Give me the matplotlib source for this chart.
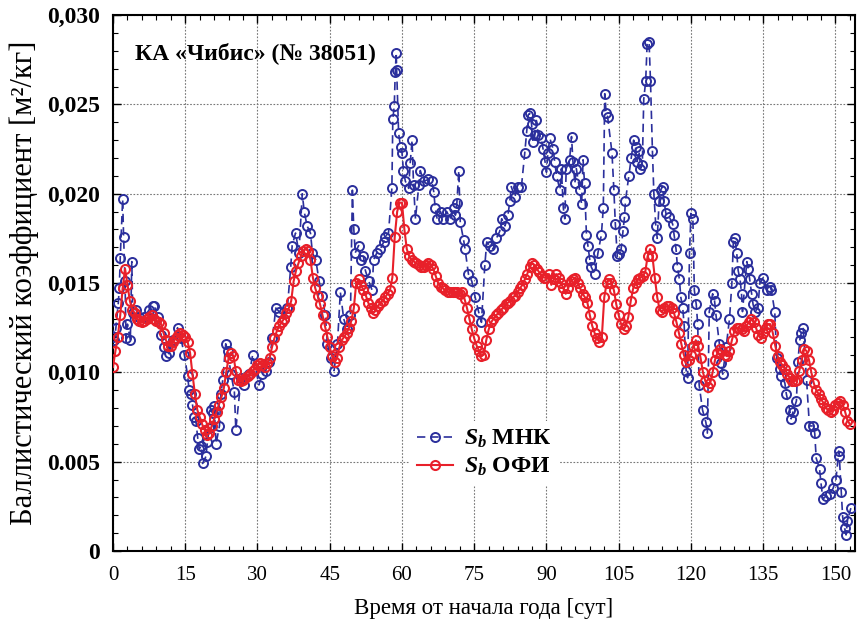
import numpy as np
import matplotlib
matplotlib.use("Agg")
import matplotlib.pyplot as plt
from matplotlib.ticker import MultipleLocator

plt.rcParams['font.family'] = ['Liberation Serif', 'DejaVu Serif']
plt.rcParams['mathtext.fontset'] = 'custom'
plt.rcParams['mathtext.rm'] = 'Liberation Serif:bold'
plt.rcParams['mathtext.it'] = 'Liberation Serif:italic:bold'

# --- data: ballistic coefficient, units 1e-3 m^2/kg ---
# S_b OFI (red), sampled every half day
red_t = np.arange(0, 153.01, 0.5)
red_v = [
    10.3, 11.2, 12.0, 13.2, 14.7, 15.8, 14.9, 14.0, 13.5, 13.3,
    13.0, 12.9, 12.8, 12.9, 13.0, 13.1, 13.2, 13.0, 12.9, 12.8,
    12.7, 12.2, 11.8, 11.5, 11.5, 11.7, 11.9, 12.1, 12.2, 12.1,
    12.0, 11.7, 11.1, 9.9, 8.8, 7.9, 7.5, 7.1, 6.8, 6.5,
    6.6, 7.0, 7.4, 7.8, 8.2, 8.6, 9.1, 10.0, 10.8, 11.1,
    10.9, 10.1, 9.6, 9.5, 9.6, 9.7, 9.8, 9.9, 10.1, 10.2,
    10.4, 10.5, 10.4, 10.3, 10.5, 10.8, 11.4, 11.9, 12.3, 12.6,
    12.8, 13.0, 13.3, 13.6, 14.0, 15.1, 15.7, 16.1, 16.5, 16.8,
    16.9, 16.8, 16.3, 15.3, 14.7, 14.3, 13.8, 13.2, 12.6, 12.0,
    11.4, 10.9, 10.6, 10.8, 11.4, 11.8, 12.0, 12.2, 12.5, 12.9,
    13.6, 15.0, 15.2, 14.9, 14.6, 14.3, 13.9, 13.6, 13.3, 13.5,
    13.7, 13.9, 14.0, 14.2, 14.4, 14.6, 15.3, 17.6, 19.0, 19.5,
    19.5, 18.0, 16.9, 16.5, 16.3, 16.2, 16.1, 16.0, 15.9, 15.9,
    16.0, 16.1, 16.0, 15.8, 15.4, 15.0, 14.8, 14.7, 14.6, 14.5,
    14.5, 14.5, 14.5, 14.5, 14.4, 14.5, 14.1, 13.6, 13.0, 12.4,
    11.9, 11.5, 11.2, 10.9, 11.0, 11.8, 12.4, 12.8, 13.0, 13.2,
    13.3, 13.5, 13.6, 13.8, 13.9, 14.0, 14.2, 14.3, 14.5, 14.7,
    14.9, 15.2, 15.5, 15.9, 16.1, 16.0, 15.8, 15.6, 15.4, 15.3,
    15.3, 15.5, 14.9, 15.2, 15.5, 15.3, 15.0, 14.7, 14.4, 14.7,
    15.1, 15.2, 15.3, 15.0, 14.7, 14.4, 14.2, 13.9, 13.2, 12.6,
    12.2, 11.9, 11.7, 12.0, 14.2, 15.0, 15.2, 15.0, 14.6, 13.8,
    13.2, 12.7, 12.4, 12.6, 13.1, 14.0, 14.7, 15.0, 15.2, 15.3,
    15.4, 15.6, 16.5, 16.9, 16.5, 15.3, 14.2, 13.5, 13.4, 13.6,
    13.7, 13.7, 13.6, 13.3, 12.8, 12.2, 11.6, 11.0, 10.6, 10.7,
    11.0, 11.5, 11.8, 11.5, 10.8, 10.0, 9.5, 9.2, 9.4, 10.0,
    10.7, 11.1, 11.3, 11.2, 11.0, 10.9, 11.2, 11.8, 12.3, 12.5,
    12.5, 12.4, 12.3, 12.6, 12.8, 13.0, 12.8, 12.5, 12.1, 11.9,
    12.2, 12.5, 12.7, 12.7, 12.2, 11.5, 10.9, 10.6, 10.4, 10.2,
    9.9, 9.7, 9.5, 9.5, 9.6, 10.1, 10.7, 11.3, 11.2, 10.7,
    10.0, 9.4, 9.0, 8.8, 8.5, 8.3, 8.0, 7.9, 7.8, 7.9,
    8.2, 8.3, 8.4, 8.2, 7.8, 7.3, 7.1,
]

# S_b MNK (blue), irregular times
blue_t = [
    0.0, 0.3, 0.6, 1.1, 1.3, 1.5, 2.0, 2.2, 2.5, 2.7, 3.0, 3.6, 3.9, 4.1, 4.8,
    5.5, 6.5, 7.5, 8.2, 8.6, 9.3, 10.0, 10.6, 11.0, 11.7, 12.4, 13.4, 14.1, 14.8,
    15.5, 15.8, 16.2, 16.5, 16.9, 17.2, 17.6, 17.9, 18.3, 18.6, 19.3, 19.6, 20.0,
    20.3, 20.7, 21.0, 21.4, 22.1, 22.4, 22.8, 23.4, 23.8,
    24.5, 25.2, 25.5, 26.6, 27.2, 28.3, 29.0, 30.3, 31.0, 31.7, 32.4, 33.1, 33.8,
    34.5, 35.5, 36.2, 36.9, 37.2, 37.9, 38.6, 39.3, 39.7, 40.3, 41.0, 41.4, 42.1,
    42.8, 43.4, 44.1, 44.5, 45.2, 45.9, 46.6, 47.2, 47.9, 48.6, 49.3, 49.7, 50.0,
    50.3, 51.0, 51.4, 52.0, 52.4, 53.1, 53.8, 54.1, 54.8, 55.5, 56.2, 56.5, 57.2,
    57.9, 58.1, 58.4, 58.6, 58.8, 58.9, 59.3, 59.7, 60.0, 60.3, 60.7, 61.4, 61.7,
    62.1, 62.4, 62.8, 63.5, 63.8, 64.5, 65.5, 66.2, 66.6, 66.9, 67.3, 68.0, 68.6,
    69.3, 70.0, 70.7, 71.1, 71.4, 71.8, 72.1, 72.8, 73.1, 73.8, 74.5, 75.2, 75.9,
    76.5, 77.2, 77.6, 78.2, 78.9, 79.6, 80.3, 80.7, 81.4, 82.0, 82.4, 82.7, 83.4,
    84.1, 84.8, 85.5, 85.9, 86.2, 86.5, 86.9, 87.2, 87.6, 87.9, 88.3, 88.9, 89.3,
    89.7, 90.0, 90.3, 90.7, 91.4, 91.7, 92.1, 92.8, 93.1, 93.5, 93.8, 94.1, 94.8,
    95.2, 95.5, 95.9, 96.2, 96.9, 97.3, 97.6, 97.9, 98.3, 98.6, 99.0, 99.3, 100.0,
    100.7, 101.4, 101.8, 102.1, 102.4, 102.7,
    103.6, 104.0, 104.3, 104.7, 105.0, 105.5, 105.9, 106.2, 106.4, 107.1, 107.6,
    108.1, 108.5, 108.8, 109.2, 109.5, 109.9, 110.2, 110.6, 110.9, 111.3, 111.6,
    112.0, 112.3, 112.7, 113.0, 113.4, 113.7, 114.1, 114.4, 114.8, 115.5, 116.2,
    116.5, 116.9, 117.2, 117.6, 117.9, 118.3, 118.6, 119.0, 119.3, 119.7, 120.0,
    120.4, 120.7, 121.1, 121.4, 121.7, 122.4, 123.1, 123.4, 123.8, 124.5, 124.9,
    125.2, 125.9, 126.3, 126.6, 127.3,
    128.0, 128.5, 128.8, 129.1, 129.5, 129.8, 130.2, 130.5, 130.7, 131.6, 131.9,
    132.2, 132.6, 132.9, 133.3, 133.9, 134.3, 135.0, 135.7, 136.4, 136.7, 137.4,
    137.8, 138.4, 138.8, 139.5, 139.8, 140.5, 140.8, 141.2, 141.9, 142.2, 142.6,
    142.9, 143.3, 144.0, 144.6, 145.3, 145.7, 146.0, 146.7, 147.0, 147.4, 148.1,
    148.8, 149.5, 150.1, 150.7, 150.8, 151.2, 151.5, 151.9, 152.2, 152.5, 153.2,
]
blue_v = [
    12.0, 11.8, 12.5, 13.9, 14.7, 16.4, 19.7, 17.6, 15.1, 11.9, 12.7, 11.8, 16.2, 13.3, 13.5,
    13.1, 13.1, 13.5, 13.7, 13.7, 13.1, 12.1, 11.4, 10.9, 11.1, 11.8, 12.5, 11.9, 11.0,
    9.8, 9.0, 8.8, 8.2, 7.5, 7.3, 6.3, 5.7, 5.9, 4.9, 5.3, 6.1, 6.9,
    7.9, 7.7, 8.1, 6.0, 7.0, 8.8, 9.6, 11.6, 11.2,
    9.9, 8.9, 6.8, 9.7, 9.3, 9.9, 11.0, 9.3, 9.9, 10.1, 10.6, 11.9, 13.6,
    13.4, 13.0, 13.6, 15.9, 17.1, 17.8, 16.7, 20.0, 19.0, 18.2, 17.8, 16.7, 16.3,
    15.1, 14.3, 13.2, 11.6, 10.8, 10.1, 11.6, 14.5, 13.0, 12.4, 13.2, 20.2, 18.0,
    16.7, 17.1, 16.3, 16.5, 15.7, 15.1, 14.6, 16.3, 16.7, 16.9, 17.3, 17.6, 17.8,
    20.3, 24.2, 24.9, 26.8, 27.9, 26.9, 23.4, 22.6, 22.3, 21.3, 20.7, 20.3, 21.7,
    23.0, 20.5, 18.6, 20.5, 21.3, 20.7, 20.8, 20.7, 20.1, 19.2, 18.6, 19.0, 18.6,
    19.0, 18.6, 19.2, 18.8, 19.5, 21.3, 18.4, 17.4, 16.9, 15.5, 15.1, 14.2, 13.4,
    12.8, 16.0, 17.3, 17.1, 16.9, 17.5, 17.9, 18.6, 18.2, 18.8, 19.6, 20.4, 19.8,
    20.4, 20.4, 22.3, 23.5, 24.4, 24.5, 23.9, 22.9, 23.3, 24.1, 23.3, 23.1, 22.5,
    21.8, 21.2, 22.3, 23.1, 22.5, 21.8, 21.0, 20.2, 21.4, 19.2, 18.6, 21.4, 21.9,
    23.2, 21.8, 20.6, 21.4, 20.2, 19.4, 21.9, 20.6, 17.7, 17.1, 16.3, 15.9, 15.5,
    16.7, 17.7, 19.2, 25.6, 24.5, 24.3,
    22.3, 20.2, 18.3, 16.5, 16.6, 16.9, 17.9, 18.7, 19.6, 21.0, 22.0,
    23.0, 22.6, 21.8, 22.4, 21.4, 21.6, 25.3, 26.3, 28.4, 28.5, 26.3,
    22.4, 20.0, 18.2, 17.5, 19.6, 20.2, 20.4, 19.6, 18.9, 18.7, 18.3,
    17.7, 16.9, 15.9, 15.2, 14.2, 13.6, 12.6, 10.1, 9.7, 16.7, 18.9,
    18.6, 14.6, 13.8, 12.7, 9.3, 7.9, 7.2, 6.6, 13.4, 14.4, 14.0,
    13.2, 11.6, 10.5, 9.9, 11.4,
    13.0, 15.0, 17.3, 17.5, 16.7, 15.7, 15.2, 14.4, 13.4, 16.2, 15.8,
    15.2, 14.4, 13.8, 13.4, 13.6, 15.0, 15.3, 14.6, 14.8, 14.6, 13.4,
    10.8, 10.2, 9.8, 9.4, 8.8, 7.9, 7.4, 7.8, 8.4, 10.6, 11.8,
    12.2, 12.5, 9.6, 7.0, 7.0, 6.6, 5.2, 4.6, 3.8, 2.9, 3.1,
    3.2, 3.5, 4.0, 5.6, 5.3, 3.3, 1.9, 1.3, 0.9, 1.7, 2.4,
]

x_ticks = [0, 15, 30, 45, 60, 75, 90, 105, 120, 135, 150]
y_ticks = [0, 0.005, 0.010, 0.015, 0.020, 0.025, 0.030]
y_tick_labels = ['0', '0.005', '0,010', '0,015', '0,020', '0,025', '0,030']

blue = '#2b2f9c'
red = '#e8202a'

fig = plt.figure(figsize=(8.59, 6.29), dpi=100)
ax = fig.add_axes([0.131, 0.124, 0.864, 0.852])

ax.plot(blue_t, np.array(blue_v) * 1e-3, color=blue, linestyle=(0, (5, 3)),
        linewidth=1.2, marker='o', markersize=6.5, markerfacecolor='none',
        markeredgewidth=1.4, label=r'$S_b$ МНК', zorder=3)
ax.plot(red_t, np.array(red_v) * 1e-3, color=red, linestyle='-',
        linewidth=1.5, marker='o', markersize=6.5, markerfacecolor='none',
        markeredgewidth=1.5, label=r'$S_b$ ОФИ', zorder=4)

ax.set_xlim(-0.1, 154.0)
ax.set_ylim(0, 0.030)
ax.set_xticks(x_ticks)
ax.set_xticklabels([str(v) for v in x_ticks], fontsize=15)
ax.set_yticks(y_ticks)
ax.set_yticklabels(y_tick_labels, fontsize=17, fontweight='bold')
ax.xaxis.set_minor_locator(MultipleLocator(3))
ax.yaxis.set_minor_locator(MultipleLocator(0.001))
ax.tick_params(which='both', direction='in', top=True, right=True)
ax.tick_params(which='major', length=6, width=1)
ax.tick_params(axis='x', which='major', pad=11)
ax.tick_params(axis='y', which='major', pad=9)
ax.tick_params(which='minor', length=3.5, width=0.8)
for s in ax.spines.values():
    s.set_linewidth(1.5)

ax.grid(True, which='major', linestyle=(0, (1.5, 1.5)), color='#777777', linewidth=0.8)
ax.set_axisbelow(True)

ax.set_xlabel('Время от начала года [сут]', fontsize=16.5, labelpad=9)
ax.set_ylabel('Баллистический коэффициент [м²/кг]', fontsize=22, labelpad=6)

ax.text(0.03, 0.93, 'КА «Чибис» (№ 38051)', transform=ax.transAxes,
        fontsize=17, fontweight='bold', va='center', ha='left')

leg = ax.legend(loc='upper left', bbox_to_anchor=(0.385, 0.265), frameon=True,
                prop={'size': 17, 'weight': 'bold'}, handlelength=1.5,
                handletextpad=0.5, labelspacing=0.25, borderpad=0.3)
leg.get_frame().set_edgecolor('none')
leg.get_frame().set_facecolor('white')
leg.get_frame().set_alpha(1.0)

fig.savefig('out.png', dpi=100)
